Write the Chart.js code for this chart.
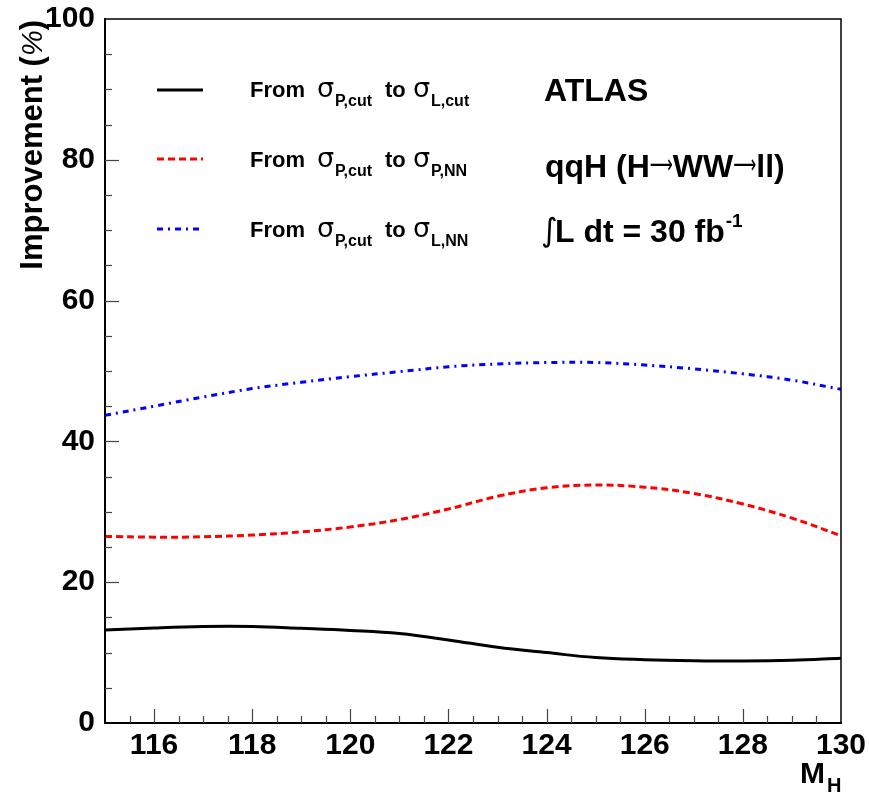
<!DOCTYPE html>
<html>
<head>
<meta charset="utf-8">
<script src="https://cdn.jsdelivr.net/npm/chart.js@4.4.0/dist/chart.umd.min.js"></script>
<style>
  html, body { margin: 0; padding: 0; background: #fff; }
</style>
</head>
<body>
<canvas id="improvementChart" width="869" height="794"></canvas>
<script>
// ===== Data =====
const massValues = [115, 116, 117, 118, 119, 120, 121, 122, 123, 124, 125, 126, 127, 128, 129, 130];
const cutToLikelihoodCut = [13.2, 13.5, 13.7, 13.7, 13.45, 13.15, 12.7, 11.8, 10.75, 10.0, 9.3, 9.0, 8.85, 8.8, 8.9, 9.2];
const cutToProjectedNN = [26.5, 26.4, 26.45, 26.7, 27.15, 27.85, 28.9, 30.4, 32.2, 33.4, 33.8, 33.5, 32.6, 31.1, 29.1, 26.6];
const cutToLikelihoodNN = [43.7, 45.0, 46.3, 47.5, 48.4, 49.2, 49.9, 50.6, 51.0, 51.2, 51.2, 50.85, 50.3, 49.6, 48.7, 47.4];
const xTickValues = [116, 118, 120, 122, 124, 126, 128, 130];
const yTickValues = [0, 20, 40, 60, 80, 100];
const legendSubscripts = [["P,cut", "L,cut"], ["P,cut", "P,NN"], ["P,cut", "L,NN"]];

const FONT = "'Liberation Sans', Arial, Helvetica, sans-serif";
const SYM = "'DejaVu Sans', " + FONT;

const toPoints = (ys) => massValues.map((m, i) => ({ x: m, y: ys[i] }));

// ticks inside the frame, legend and labels (ROOT style)
const decorPlugin = {
    id: "decor",
    afterDraw(chart) {
        const ctx = chart.ctx;
        const area = chart.chartArea;
        const xs = chart.scales.x;
        const ys = chart.scales.y;
        ctx.save();

        // frame
        ctx.strokeStyle = "#000";
        ctx.lineWidth = 1.5;
        ctx.strokeRect(area.left, area.top, area.right - area.left, area.bottom - area.top);

        // x ticks
        ctx.strokeStyle = "#444";
        ctx.lineWidth = 1.2;
        for (let v = 115.5; v < 130; v += 0.5) {
            const px = Math.round(xs.getPixelForValue(v)) + 0.5;
            const len = v % 2 === 0 ? 14 : 7;
            ctx.beginPath();
            ctx.moveTo(px, area.bottom);
            ctx.lineTo(px, area.bottom - len);
            ctx.stroke();
        }
        // y ticks
        for (let v = 5; v < 100; v += 5) {
            const py = Math.round(ys.getPixelForValue(v)) + 0.5;
            const len = v % 20 === 0 ? 14 : 7;
            ctx.beginPath();
            ctx.moveTo(area.left, py);
            ctx.lineTo(area.left + len, py);
            ctx.stroke();
        }

        // legend
        const rowY = [90, 159, 229];
        const rowBase = [97, 167, 237];
        chart.data.datasets.forEach((ds, i) => {
            ctx.strokeStyle = ds.borderColor;
            ctx.lineWidth = ds.borderWidth;
            ctx.setLineDash(ds.borderDash || []);
            ctx.beginPath();
            ctx.moveTo(157, rowY[i]);
            ctx.lineTo(203, rowY[i]);
            ctx.stroke();
            ctx.setLineDash([]);

            const b = rowBase[i];
            ctx.fillStyle = "#000";
            ctx.textBaseline = "alphabetic";
            ctx.textAlign = "left";
            ctx.font = "bold 22px " + FONT;
            ctx.fillText("From", 250, b);
            ctx.fillText("to", 385, b);
            ctx.font = "27px " + SYM;
            ctx.fillText("\u03c3", 317, b);
            ctx.fillText("\u03c3", 413, b);
            ctx.font = "bold 16px " + FONT;
            ctx.fillText(legendSubscripts[i][0], 335, b + 9);
            ctx.fillText(legendSubscripts[i][1], 431, b + 9);
        });

        // experiment labels
        ctx.fillStyle = "#000";
        ctx.font = "bold 32px " + FONT;
        ctx.fillText("ATLAS", 544, 101);

        // qqH (H->WW->ll) with long arrows
        let x = 545;
        const words = ["qqH (H", "WW", "ll)"];
        words.forEach((w, k) => {
            ctx.font = "bold 32px " + FONT;
            ctx.fillText(w, x, 177);
            x += ctx.measureText(w).width;
            if (k < words.length - 1) {
                ctx.save();
                ctx.font = "26px " + SYM;
                const aw = ctx.measureText("\u27f6").width;
                ctx.translate(x, 173);
                ctx.scale(23 / aw, 1);
                ctx.fillText("\u27f6", 0, 0);
                ctx.restore();
                x += 23;
            }
        });

        ctx.font = "32px " + SYM;
        ctx.fillText("\u222b", 541, 241);
        ctx.font = "bold 32px " + FONT;
        ctx.fillText("L dt = 30 fb", 555, 242);
        x = 555 + ctx.measureText("L dt = 30 fb").width;
        ctx.font = "bold 19px " + FONT;
        ctx.fillText("-1", x + 1, 227);

        // axis titles
        ctx.font = "bold 30px " + FONT;
        ctx.fillText("M", 800, 783);
        ctx.font = "bold 20px " + FONT;
        ctx.fillText("H", 827, 792);

        ctx.save();
        ctx.translate(42, 20);
        ctx.rotate(-Math.PI / 2);
        ctx.textAlign = "right";
        const tail = ")";
        ctx.font = "bold 31px " + FONT;
        const wTail = ctx.measureText(tail).width;
        ctx.fillText(tail, 0, 0);
        ctx.font = "italic 29px " + FONT;
        const wPct = ctx.measureText("%").width;
        ctx.fillText("%", -wTail, 0);
        ctx.font = "bold 31px " + FONT;
        ctx.fillText("Improvement (", -wTail - wPct, 0);
        ctx.restore();

        ctx.restore();
    },
};

new Chart(document.getElementById("improvementChart"), {
    type: "line",
    data: {
        datasets: [
            {
                label: "From sigma_P,cut to sigma_L,cut",
                data: toPoints(cutToLikelihoodCut),
                borderColor: "#000000",
                borderWidth: 3,
                pointRadius: 0,
                tension: 0.4,
            },
            {
                label: "From sigma_P,cut to sigma_P,NN",
                data: toPoints(cutToProjectedNN),
                borderColor: "#ff0000",
                borderWidth: 3,
                borderDash: [7, 4],
                pointRadius: 0,
                tension: 0.4,
            },
            {
                label: "From sigma_P,cut to sigma_L,NN",
                data: toPoints(cutToLikelihoodNN),
                borderColor: "#0000ff",
                borderWidth: 3,
                borderDash: [6, 5, 2, 5],
                pointRadius: 0,
                tension: 0.4,
            },
        ],
    },
    options: {
        responsive: false,
        animation: false,
        devicePixelRatio: 1,
        layout: { padding: { left: 0, top: 19, right: 28, bottom: 0 } },
        plugins: { legend: { display: false }, tooltip: { enabled: false } },
        scales: {
            x: {
                type: "linear",
                min: 115,
                max: 130,
                afterBuildTicks: (s) => { s.ticks = xTickValues.map((v) => ({ value: v })); },
                afterFit: (s) => {
                    s.height = 71;
                    s.paddingLeft = 0;
                    s.paddingRight = 0;
                },
                grid: { display: false, drawTicks: false },
                border: { display: true, color: "#000", width: 2 },
                ticks: {
                    color: "#000",
                    padding: 5,
                    maxRotation: 0,
                    autoSkip: false,
                    font: { family: FONT, size: 30, weight: "bold" },
                },
            },
            y: {
                min: 0,
                max: 100,
                afterBuildTicks: (s) => { s.ticks = yTickValues.map((v) => ({ value: v })); },
                afterFit: (s) => {
                    s.width = 105;
                    s.paddingTop = 0;
                    s.paddingBottom = 0;
                },
                grid: { display: false, drawTicks: false },
                border: { display: true, color: "#000", width: 2 },
                ticks: {
                    color: "#000",
                    padding: 10,
                    autoSkip: false,
                    font: { family: FONT, size: 30, weight: "bold" },
                },
            },
        },
    },
    plugins: [decorPlugin],
});
</script>
</body>
</html>
